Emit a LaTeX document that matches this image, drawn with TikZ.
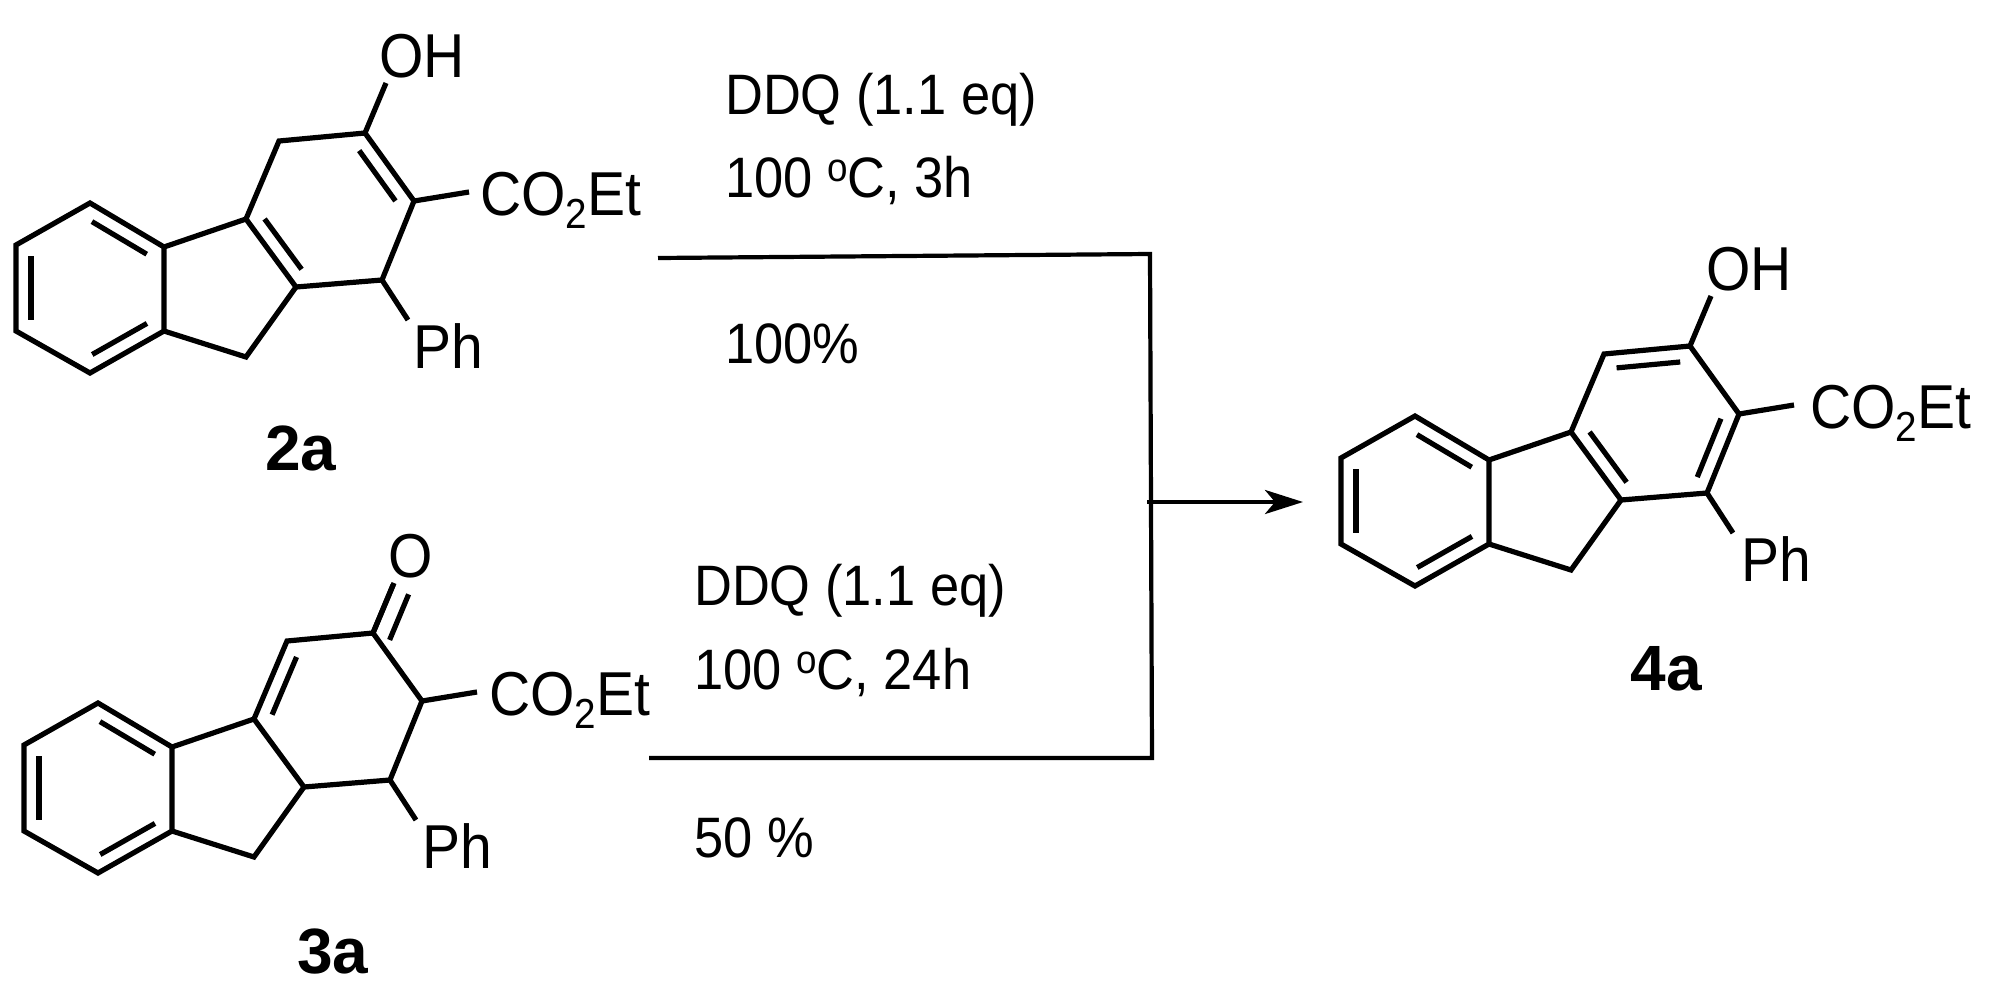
\documentclass[tikz,border=0pt]{standalone}
\usepackage{fontspec}
\setmainfont{Liberation Sans}
\usetikzlibrary{calc,arrows.meta}
\newcommand{\chemfont}{\fontsize{62}{64}\selectfont}
\newcommand{\condfont}{\fontsize{57}{60}\selectfont}
\newcommand{\sq}[1]{\scalebox{0.92}[1]{#1}}
\newcommand{\subtwo}{\raisebox{-13pt}{\fontsize{42}{42}\selectfont 2}}
\newcommand{\degsym}{\raisebox{16pt}{\fontsize{40}{40}\selectfont o}}
\newcommand{\dblin}[3]{%
  \coordinate (tmpF) at ($(#1)!(#3)!(#2)$);
  \draw[bond] ($($(#1)!0.13!(#2)$)+($(tmpF)!15pt!(#3)$)-(tmpF)$) -- ($($(#2)!0.13!(#1)$)+($(tmpF)!15pt!(#3)$)-(tmpF)$);}
\newcommand{\fluorene}[1]{%
  \coordinate (#1b1) at (90,203);
  \coordinate (#1b2) at (16,245);
  \coordinate (#1b3) at (16,331);
  \coordinate (#1b4) at (90,373);
  \coordinate (#1b5) at (164,331);
  \coordinate (#1b6) at (164,247);
  \coordinate (#1a) at (246,219);
  \coordinate (#1bb) at (296,287);
  \coordinate (#1ch) at (246,357);
  \coordinate (#1c1) at (279,141);
  \coordinate (#1c2) at (365,133);
  \coordinate (#1c3) at (414,201);
  \coordinate (#1c4) at (382,280);
  \coordinate (#1oh) at (386,83);
  \coordinate (#1es) at (469,192);
  \coordinate (#1ph) at (408,320);
  \coordinate (#1bc) at (90,288);
  \coordinate (#1sc) at (330,207);
  \draw[bond] (#1b1)--(#1b2)--(#1b3)--(#1b4)--(#1b5)--(#1b6)--cycle;
  \draw[bond] (#1b6)--(#1a)--(#1bb)--(#1ch)--(#1b5);
  \draw[bond] (#1a)--(#1c1)--(#1c2)--(#1c3)--(#1c4)--(#1bb);
  \draw[bond] (#1c2)--(#1oh);
  \draw[bond] (#1c3)--(#1es);
  \draw[bond] (#1c4)--(#1ph);
  \dblin{#1b1}{#1b6}{#1bc}
  \dblin{#1b2}{#1b3}{#1bc}
  \dblin{#1b4}{#1b5}{#1bc}}
\begin{document}
\begin{tikzpicture}[x=1pt,y=-1pt,
  bond/.style={line width=5.2pt,line cap=butt,line join=miter},
  rxn/.style={line width=4.2pt},
  chem/.style={inner sep=0pt,anchor=base west,font=\chemfont},
  cond/.style={inner sep=0pt,anchor=base west,font=\condfont},
  cpd/.style={inner sep=0pt,anchor=base,font=\fontsize{64}{66}\selectfont\bfseries}]
\useasboundingbox (0,0) rectangle (1989,996);
% 2a
\begin{scope}
  \fluorene{p}
  \dblin{pa}{pbb}{psc}
  \dblin{pc2}{pc3}{psc}
\end{scope}
\node[chem] (pOH) at (379,77) {\sq{OH}};
\node[chem] (pCO) at (480,215) {\sq{CO\subtwo Et}};
\node[chem] (pPh) at (413,368) {\sq{Ph}};
\node[cpd] (l2a) at (301,470) {2a};
% 3a
\begin{scope}[shift={(8,500)}]
  \fluorene{q}
  \dblin{qa}{qc1}{qsc}
  \coordinate (qo) at (385,85);
  \coordinate (qor) at (440,150);
  \draw[bond] (qc2)--(qo);
  \coordinate (tmpG) at ($(qc2)!(qor)!(qo)$);
  \draw[bond] ($(qc2)+($(tmpG)!18pt!(qor)$)-(tmpG)$) -- ($($(qo)!0.05!(qc2)$)+($(tmpG)!18pt!(qor)$)-(tmpG)$);
\end{scope}
\node[chem] (qO) at (388,577) {\sq{O}};
\node[chem] (qCO) at (489,715) {\sq{CO\subtwo Et}};
\node[chem] (qPh) at (422,868) {\sq{Ph}};
\node[cpd] (l3a) at (333,973) {3a};
% 4a
\begin{scope}[shift={(1325,213)}]
  \fluorene{r}
  \dblin{ra}{rbb}{rsc}
  \dblin{rc1}{rc2}{rsc}
  \dblin{rc3}{rc4}{rsc}
\end{scope}
\node[chem] (rOH) at (1706,290) {\sq{OH}};
\node[chem] (rCO) at (1810,428) {\sq{CO\subtwo Et}};
\node[chem] (rPh) at (1741,581) {\sq{Ph}};
\node[cpd] (l4a) at (1666,690) {4a};
% conditions
\node[cond] (t1) at (725,114) {\sq{DDQ (1.1 eq)}};
\node[cond] (t2) at (725,197) {\sq{100 \degsym C, 3h}};
\node[cond] (t3) at (725,363) {\sq{100\%}};
\node[cond] (t4) at (694,605) {\sq{DDQ (1.1 eq)}};
\node[cond] (t5) at (694,689) {\sq{100 \degsym C, 24h}};
\node[cond] (t6) at (694,857) {\sq{50 \%}};
% arrows
\coordinate (u1) at (658,258);
\coordinate (u2) at (1150,254);
\coordinate (d1) at (649,758);
\coordinate (d2) at (1152,758);
\coordinate (m1) at (1147,502);
\coordinate (m2) at (1303,502);
\draw[rxn,line join=miter] (u1) -- (u2) -- (d2) -- (d1);
\draw[rxn,-{Stealth[length=38pt,width=24pt,inset=10pt]}] (m1) -- (m2);
\end{tikzpicture}
\end{document}
